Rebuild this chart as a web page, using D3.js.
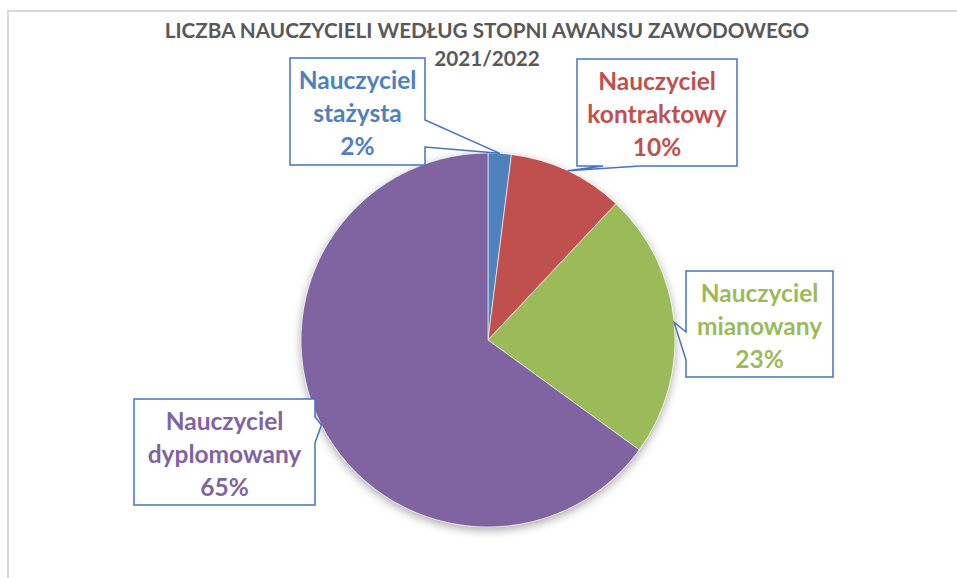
<!DOCTYPE html>
<html lang="pl">

<head>
  <meta charset="UTF-8">
  <title>Liczba nauczycieli według stopni awansu zawodowego</title>
  <script src="https://d3js.org/d3.v7.min.js"></script>
  <style>
    body {
      margin: 0;
      background: #fff;
      font-family: Lato, "Open Sans", sans-serif;
    }
  </style>
</head>

<body>
  <div id="chart"></div>

  <script>
    // data
    const categories = ["Nauczyciel stażysta", "Nauczyciel kontraktowy", "Nauczyciel mianowany", "Nauczyciel dyplomowany"];
    const labelLines = [["Nauczyciel", "stażysta"], ["Nauczyciel", "kontraktowy"], ["Nauczyciel", "mianowany"], ["Nauczyciel", "dyplomowany"]];
    const values = [2, 10, 23, 65];
    const colors = ["#4F81BD", "#C0504D", "#9BBB59", "#8064A2"];
    const titleLines = ["LICZBA NAUCZYCIELI WEDŁUG STOPNI AWANSU ZAWODOWEGO", "2021/2022"];

    // callout boxes (layout only): side of the pointer and its base on that side
    const boxes = [
      { x: 290, y: 58, w: 135, h: 107, side: "right", base: [120, 147] },
      { x: 577, y: 59, w: 160, h: 107, side: "bottom", base: [603, 640] },
      { x: 686, y: 271, w: 147, h: 106, side: "left", base: [332, 360] },
      { x: 134, y: 399, w: 181, h: 106, side: "right", base: [417, 443] }
    ];

    const W = 957, H = 578;
    const cx = 488, cy = 340, r = 187;

    const svg = d3.select("#chart").append("svg")
      .attr("width", W)
      .attr("height", H);

    // chart frame
    svg.append("path")
      .attr("d", `M8,${H} V11 H${W}`)
      .attr("fill", "none")
      .attr("stroke", "#d9d9d9")
      .attr("stroke-width", 2);

    // title
    svg.append("text")
      .attr("x", 487)
      .attr("y", 38)
      .attr("text-anchor", "middle")
      .attr("font-weight", "bold")
      .attr("font-size", "20.7px")
      .attr("fill", "#595959")
      .selectAll("tspan")
      .data(titleLines)
      .join("tspan")
      .attr("x", 487)
      .attr("dy", (d, i) => i ? 28 : 0)
      .text(d => d);

    const defs = svg.append("defs");
    const shadow = defs.append("filter")
      .attr("id", "shadow")
      .attr("x", "-20%").attr("y", "-20%")
      .attr("width", "140%").attr("height", "140%");
    shadow.append("feDropShadow")
      .attr("dx", 0)
      .attr("dy", 3)
      .attr("stdDeviation", 5)
      .attr("flood-color", "#000")
      .attr("flood-opacity", 0.35);

    const pie = d3.pie().sort(null).value(d => d)(values);
    const arc = d3.arc().innerRadius(0).outerRadius(r);

    const g = svg.append("g")
      .attr("transform", `translate(${cx},${cy})`);

    g.append("circle")
      .attr("r", r)
      .attr("fill", "#fff")
      .attr("filter", "url(#shadow)");

    g.selectAll("path.slice")
      .data(pie)
      .join("path")
      .attr("class", "slice")
      .attr("d", arc)
      .attr("fill", (d, i) => colors[i])
      .attr("stroke", "#fff")
      .attr("stroke-width", 0.6);

    // callout shape: rectangle with a wedge pointing at the slice edge
    function calloutPath(b, tip) {
      const x0 = b.x, y0 = b.y, x1 = b.x + b.w, y1 = b.y + b.h;
      const [a, c] = b.base;
      const t = `${tip[0]},${tip[1]}`;
      if (b.side === "right")
        return `M${x0},${y0} H${x1} V${a} L${t} L${x1},${c} V${y1} H${x0} Z`;
      if (b.side === "left")
        return `M${x0},${y0} H${x1} V${y1} H${x0} V${c} L${t} L${x0},${a} Z`;
      return `M${x0},${y0} H${x1} V${y1} H${c} L${t} L${a},${y1} H${x0} Z`;
    }

    const labels = svg.selectAll("g.label")
      .data(pie)
      .join("g")
      .attr("class", "label");

    labels.append("path")
      .attr("d", (d, i) => {
        const a = (d.startAngle + d.endAngle) / 2;
        const tip = [cx + r * Math.sin(a), cy - r * Math.cos(a)];
        return calloutPath(boxes[i], tip);
      })
      .attr("fill", "#fff")
      .attr("stroke", "#4472C4")
      .attr("stroke-width", 1.5);

    labels.append("text")
      .attr("text-anchor", "middle")
      .attr("font-weight", "bold")
      .attr("font-size", "24.5px")
      .attr("fill", (d, i) => colors[i])
      .selectAll("tspan")
      .data((d, i) => labelLines[i].concat([d.data + "%"]).map(t => ({ t, b: boxes[i] })))
      .join("tspan")
      .attr("x", d => d.b.x + d.b.w / 2)
      .attr("y", (d, j) => d.b.y + 31 + j * 33)
      .text(d => d.t);
  </script>
</body>

</html>
